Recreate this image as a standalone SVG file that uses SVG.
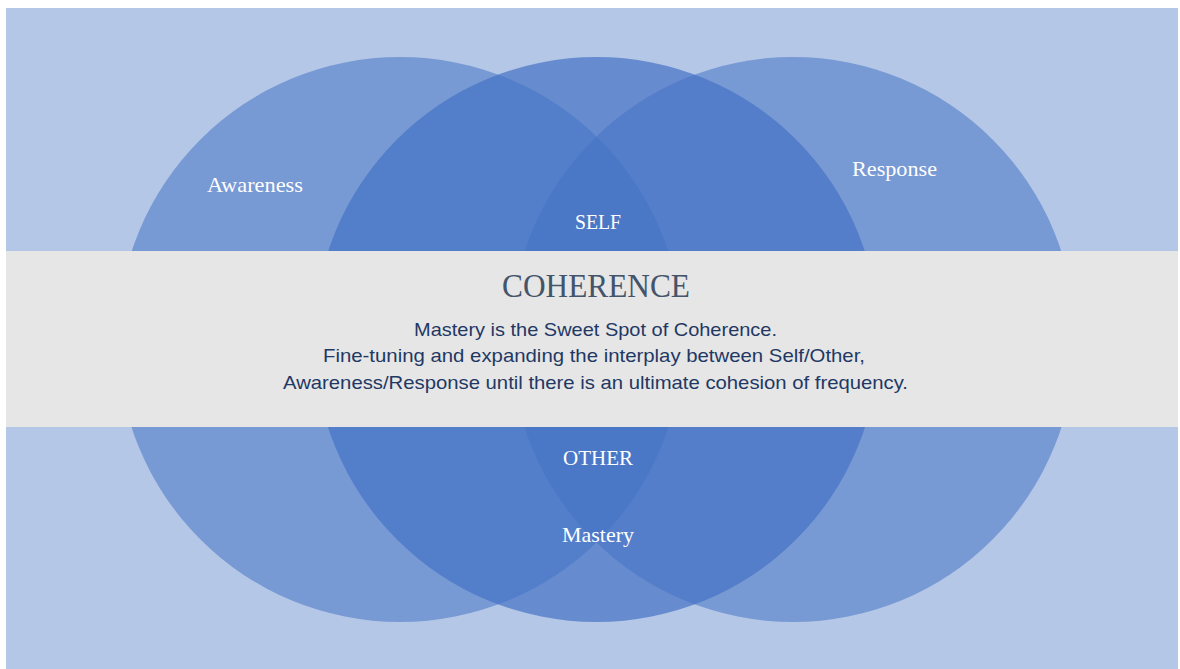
<svg xmlns="http://www.w3.org/2000/svg" width="1180" height="669" viewBox="0 0 1180 669">
  <style>
    .ring { fill: #4472c4; }
    .side { fill-opacity: 0.54; }
    .centre { fill-opacity: 0.70; }
    .lbl { font-family: "Liberation Serif", "DejaVu Serif", serif; fill: #ffffff; text-anchor: middle; }
    .title { font-family: "Liberation Serif", "DejaVu Serif", serif; fill: #44546a; text-anchor: middle; font-size: 33px; }
    .body { font-family: "Liberation Sans", "Open Sans", sans-serif; fill: #1f3864; text-anchor: middle; font-size: 18.5px; }
  </style>

  <!-- page background -->
  <rect x="0" y="0" width="1180" height="669" fill="#ffffff"/>
  <rect x="6" y="8" width="1172" height="661" fill="#b4c7e7"/>

  <!-- overlapping circles -->
  <g id="awareness-circle">
    <circle class="ring side" cx="400" cy="339.5" r="282.5"/>
  </g>
  <g id="self-other-circle">
    <circle class="ring centre" cx="596.5" cy="339.5" r="282.5"/>
  </g>
  <g id="response-circle">
    <circle class="ring side" cx="793" cy="339.5" r="282.5"/>
  </g>

  <!-- circle labels -->
  <g id="labels">
    <text class="lbl" x="255" y="192" font-size="22" textLength="96" lengthAdjust="spacingAndGlyphs">Awareness</text>
    <text class="lbl" x="894.5" y="176" font-size="22" textLength="85" lengthAdjust="spacingAndGlyphs">Response</text>
    <text class="lbl" x="598" y="229" font-size="21" textLength="46" lengthAdjust="spacingAndGlyphs">SELF</text>
    <text class="lbl" x="598" y="465" font-size="21" textLength="70" lengthAdjust="spacingAndGlyphs">OTHER</text>
    <text class="lbl" x="598" y="542" font-size="22" textLength="72" lengthAdjust="spacingAndGlyphs">Mastery</text>
  </g>

  <!-- coherence banner -->
  <g id="coherence-banner">
    <rect x="6" y="251" width="1172" height="176" fill="#e6e6e6"/>
    <text class="title" x="596" y="297" textLength="188" lengthAdjust="spacingAndGlyphs">COHERENCE</text>
    <text class="body" x="595.5" y="336" textLength="363" lengthAdjust="spacingAndGlyphs">Mastery is the Sweet Spot of Coherence.</text>
    <text class="body" x="594" y="362" textLength="542" lengthAdjust="spacingAndGlyphs">Fine-tuning and expanding the interplay between Self/Other,</text>
    <text class="body" x="595.5" y="389" textLength="625" lengthAdjust="spacingAndGlyphs">Awareness/Response until there is an ultimate cohesion of frequency.</text>
  </g>
</svg>
